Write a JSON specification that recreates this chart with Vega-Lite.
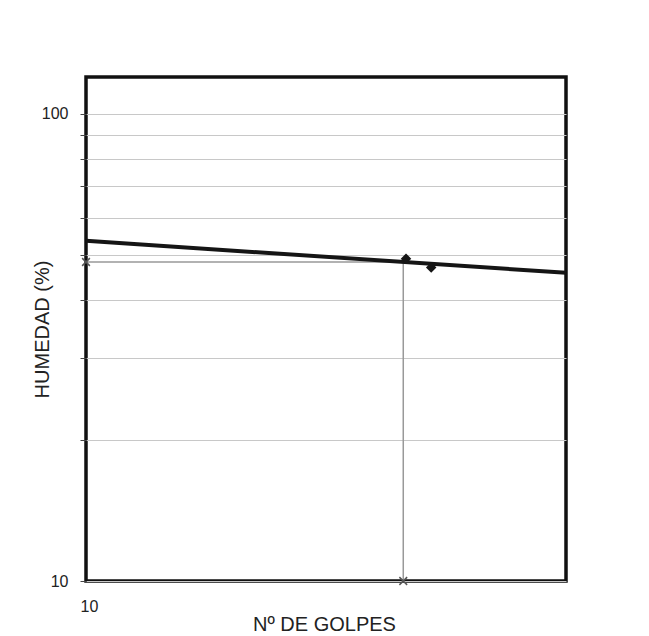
{
  "$schema": "https://vega.github.io/schema/vega-lite/v6.json",
  "autosize": "none",
  "width": 480,
  "height": 504,
  "padding": {"left": 86, "top": 77, "right": 83, "bottom": 55},
  "background": "white",
  "config": {
    "font": "Liberation Sans",
    "view": {"stroke": "#111111", "strokeWidth": 3.5},
    "axis": {"domain": false, "labelFont": "Liberation Sans", "titleFont": "Liberation Sans", "labelColor": "#222", "titleColor": "#222", "labelFontSize": 16, "titleFontSize": 20, "titleFontWeight": "normal"}
  },
  "datasets": {
    "trend": [{"golpes": 10, "humedad": 53.5}, {"golpes": 40, "humedad": 45.7}],
    "puntos": [{"golpes": 25.2, "humedad": 49.0}, {"golpes": 27.1, "humedad": 46.9}],
    "guia": [{"golpes": 10, "humedad": 48.2, "orden": 1}, {"golpes": 25, "humedad": 48.2, "orden": 2}, {"golpes": 25, "humedad": 10, "orden": 3}],
    "marcas": [{"golpes": 10, "humedad": 48.2}, {"golpes": 25, "humedad": 10}]
  },
  "encoding": {
    "x": {"field": "golpes", "type": "quantitative", "scale": {"type": "log", "domain": [10, 40], "nice": false},
      "axis": {"values": [10], "grid": false, "ticks": false, "labelPadding": 17, "labelAlign": "left", "labelOffset": -6, "title": "Nº DE GOLPES", "titleX": 238, "titleY": 43, "titleBaseline": "middle", "titleAlign": "center"}},
    "y": {"field": "humedad", "type": "quantitative", "scale": {"type": "log", "domain": [10, 120], "nice": false},
      "axis": {"values": [10, 20, 30, 40, 50, 60, 70, 80, 90, 100], "grid": true, "gridColor": "#c8c8c8", "gridWidth": 1.2, "tickSize": 6, "tickColor": "#444", "labelPadding": 12, "labelExpr": "datum.value == 10 || datum.value == 100 ? datum.label : ''", "title": "HUMEDAD (%)", "titleX": -44, "titleY": 252, "titleBaseline": "middle", "titleAlign": "center", "titleAngle": 270}}
  },
  "layer": [
    {"data": {"name": "guia"}, "mark": {"type": "line", "color": "#999999", "strokeWidth": 1.5}, "encoding": {"order": {"field": "orden", "type": "quantitative"}}},
    {"data": {"name": "trend"}, "mark": {"type": "line", "color": "#151515", "strokeWidth": 4}, "encoding": {}},
    {"data": {"name": "puntos"}, "mark": {"type": "point", "shape": "diamond", "filled": true, "color": "#151515", "size": 110, "opacity": 1}, "encoding": {}},
    {"data": {"name": "marcas"}, "mark": {"type": "point", "shape": "M-1,-1L1,1M1,-1L-1,1", "filled": false, "color": "#555555", "strokeWidth": 1.5, "size": 60, "opacity": 1}, "encoding": {}}
  ]
}
